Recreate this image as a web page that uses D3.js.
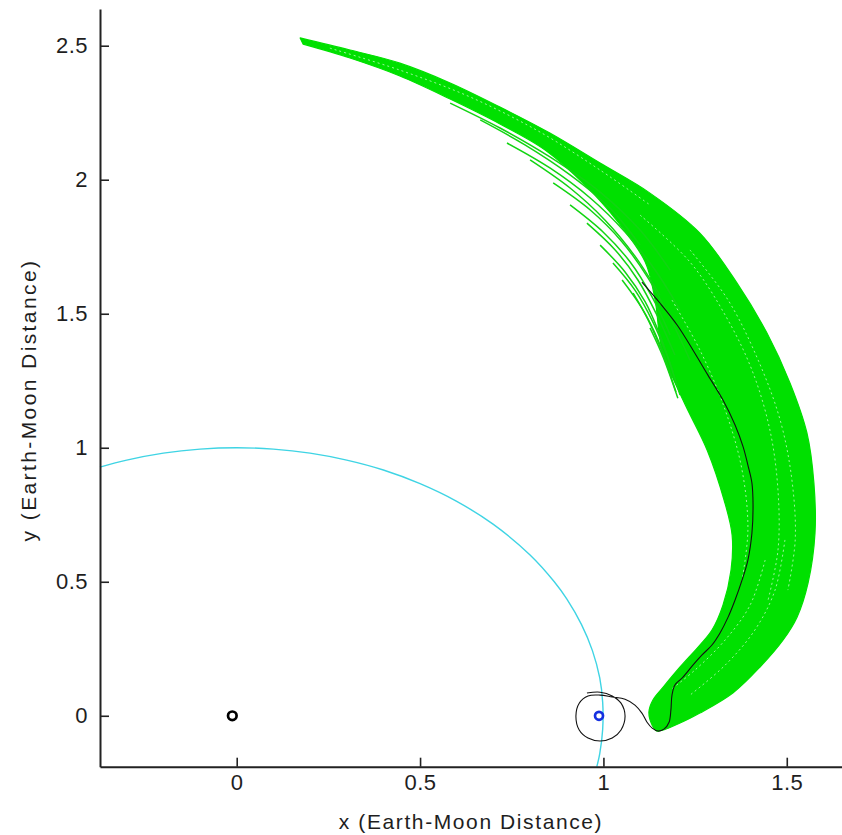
<!DOCTYPE html>
<html><head><meta charset="utf-8">
<script src="https://cdn.jsdelivr.net/npm/d3@7"></script>
<style>
html,body{margin:0;padding:0;background:#fff;}
svg{display:block;}
text{font-family:"Liberation Sans",Arial,Helvetica,sans-serif;fill:#1e1e1e;}
</style></head>
<body>
<svg id="chart" width="842" height="835"></svg>
<script>
// ---- data (Earth-Moon distance units) ----
const xTicks = [0, 0.5, 1, 1.5];
const yTicks = [0, 0.5, 1, 1.5, 2, 2.5];
const xLabel = "x (Earth-Moon Distance)";
const yLabel = "y (Earth-Moon Distance)";

const earth = [-0.012, 0];
const moon = [0.988, 0];

// Moon orbit (cyan)
const orbitX = [-0.373,-0.3,-0.2,-0.1,0,0.1,0.2,0.3,0.4,0.5,0.6,0.7,0.8,0.866,0.9,0.94,0.97,0.99,0.998,0.998,0.99,0.982];
const orbitY = [0.928,0.954,0.980,0.995,1.0,0.995,0.980,0.954,0.917,0.866,0.800,0.714,0.600,0.5,0.436,0.341,0.243,0.141,0.05,-0.05,-0.141,-0.19];

// Green bundle of trajectories: dense core outline (outer edge, then inner edge)
const bundleOuter = [[0.173,2.529],[0.309,2.484],[0.445,2.435],[0.582,2.361],[0.718,2.271],[0.854,2.174],[0.991,2.062],[1.127,1.950],[1.263,1.801],[1.364,1.615],[1.446,1.428],[1.509,1.241],[1.555,1.055],[1.574,0.868],[1.577,0.682],[1.558,0.495],[1.528,0.368],[1.490,0.283],[1.427,0.182],[1.353,0.085],[1.263,0.010],[1.209,-0.027],[1.146,-0.057]];
const bundleInner = [[1.133,-0.035],[1.124,0.014],[1.135,0.059],[1.163,0.107],[1.209,0.182],[1.263,0.264],[1.296,0.320],[1.326,0.413],[1.348,0.544],[1.351,0.674],[1.329,0.805],[1.283,0.991],[1.217,1.178],[1.160,1.365],[1.141,1.551],[1.114,1.693],[1.040,1.842],[0.950,1.980],[0.841,2.111],[0.718,2.208],[0.582,2.301],[0.445,2.387],[0.309,2.454],[0.181,2.506]];

// Individual green trajectories fanning out on the inner side
const fringeLines = [
  [[0.582,2.286],[0.718,2.193],[0.854,2.085],[0.991,1.954],[1.100,1.812],[1.182,1.663]],
  [[0.664,2.223],[0.786,2.130],[0.909,2.018],[1.018,1.894],[1.100,1.756]],
  [[0.737,2.137],[0.854,2.044],[0.964,1.932],[1.059,1.805],[1.141,1.663],[1.209,1.514]],
  [[0.800,2.074],[0.909,1.969],[1.004,1.850],[1.086,1.715],[1.154,1.570]],
  [[0.863,1.988],[0.964,1.887],[1.051,1.768],[1.122,1.633],[1.182,1.484],[1.236,1.327]],
  [[0.909,1.906],[0.999,1.805],[1.073,1.693],[1.133,1.562],[1.182,1.421]],
  [[0.955,1.838],[1.032,1.738],[1.094,1.626],[1.146,1.495],[1.195,1.346]],
  [[0.991,1.756],[1.059,1.656],[1.114,1.544],[1.154,1.421],[1.190,1.283]],
  [[1.026,1.689],[1.086,1.588],[1.135,1.469],[1.173,1.346],[1.209,1.197]],
  [[1.051,1.626],[1.105,1.521],[1.149,1.402],[1.187,1.260]],
  [[1.081,1.577],[1.122,1.477],[1.160,1.357],[1.198,1.208]],
  [[1.127,1.447],[1.163,1.338],[1.203,1.185]]
];

// Lighter gaps between trajectories inside the bundle
const gapLines = [
  [[0.254,2.491],[0.445,2.409],[0.636,2.309],[0.827,2.178],[0.991,2.036],[1.127,1.906]],
  [[1.100,1.868],[1.236,1.693],[1.332,1.495],[1.405,1.290],[1.454,1.066],[1.476,0.842],[1.476,0.618],[1.449,0.432]],
  [[1.236,1.738],[1.340,1.551],[1.422,1.327],[1.482,1.103],[1.514,0.880],[1.523,0.656],[1.503,0.469]],
  [[1.187,1.551],[1.263,1.365],[1.332,1.141],[1.378,0.917],[1.394,0.693],[1.378,0.506]],
  [[1.495,0.656],[1.468,0.469],[1.413,0.320],[1.332,0.189],[1.236,0.077]],
  [[1.441,0.581],[1.400,0.413],[1.332,0.283],[1.250,0.171],[1.182,0.096]]
];

// Black reference trajectory (loop about the Moon, then out along the bundle)
const pathX = [0.955,0.991,1.024,1.048,1.059,1.048,1.024,0.991,0.958,0.934,0.925,0.934,0.958,0.991,1.024,1.059,1.086,1.105,1.119,1.133,1.149,1.165,1.179,1.184,1.187,1.195,1.217,1.244,1.269,1.296,1.318,1.340,1.359,1.378,1.394,1.405,1.408,1.405,1.394,1.381,1.359,1.326,1.285,1.244,1.201,1.154,1.105];
const pathY = [0.085,0.088,0.074,0.047,-0.001,-0.053,-0.083,-0.094,-0.083,-0.053,-0.001,0.047,0.074,0.077,0.070,0.062,0.040,0.010,-0.024,-0.046,-0.057,-0.050,-0.024,0.021,0.077,0.115,0.144,0.189,0.227,0.264,0.309,0.368,0.432,0.506,0.581,0.682,0.786,0.868,0.935,1.003,1.085,1.178,1.271,1.365,1.458,1.540,1.618];

// ---- drawing ----
const svg = d3.select("#chart");
const x = d3.scaleLinear().domain([-0.3728, 1.6506]).range([100, 842]);
const y = d3.scaleLinear().domain([-0.19, 2.637]).range([766.7, 9]);

const smooth = d3.line().x(d => x(d[0])).y(d => y(d[1])).curve(d3.curveCatmullRom);
const green = "#00e000";

// bundle core
svg.append("path")
  .attr("d", smooth(bundleOuter.concat(bundleInner)) + "Z")
  .attr("fill", green).attr("stroke", green).attr("stroke-width", 1.2)
  .attr("stroke-linejoin", "round");

// fringe trajectories
svg.append("g").selectAll("path").data(fringeLines).join("path")
  .attr("d", d => smooth(d))
  .attr("fill", "none").attr("stroke", "#12d412").attr("stroke-width", 1.5);

// gaps inside the bundle
svg.append("g").selectAll("path").data(gapLines).join("path")
  .attr("d", d => smooth(d))
  .attr("fill", "none").attr("stroke", "#e8ffe8").attr("stroke-width", 0.9)
  .attr("stroke-dasharray", "2,3").attr("opacity", 0.75);

// moon orbit
const orbit = orbitX.map((v, i) => [v, orbitY[i]]);
svg.append("path").attr("d", smooth(orbit))
  .attr("fill", "none").attr("stroke", "#3fd4e4").attr("stroke-width", 1.4);

// black trajectory
const traj = pathX.map((v, i) => [v, pathY[i]]);
svg.append("path").attr("d", smooth(traj))
  .attr("fill", "none").attr("stroke", "#111").attr("stroke-width", 1.1);

// Earth and Moon markers
svg.append("circle").attr("cx", x(earth[0])).attr("cy", y(earth[1])).attr("r", 4.3)
  .attr("fill", "#fff").attr("stroke", "#000").attr("stroke-width", 2.7);
svg.append("circle").attr("cx", x(moon[0])).attr("cy", y(moon[1])).attr("r", 4)
  .attr("fill", "#fff").attr("stroke", "#1530e0").attr("stroke-width", 2.7);

// axes
const fmt = d => String(d);
const gx = svg.append("g").attr("transform", "translate(0,766.7)")
  .call(d3.axisBottom(x).tickValues(xTicks).tickFormat(fmt).tickSizeInner(-9).tickSizeOuter(0).tickPadding(8));
const gy = svg.append("g").attr("transform", "translate(100,0)")
  .call(d3.axisLeft(y).tickValues(yTicks).tickFormat(fmt).tickSizeInner(-9).tickSizeOuter(0).tickPadding(12));
[gx, gy].forEach(g => {
  g.select(".domain").attr("stroke", "#222").attr("stroke-width", 2);
  g.selectAll(".tick line").attr("stroke", "#222").attr("stroke-width", 1.6);
  g.selectAll("text").attr("font-size", 22).attr("fill", "#1e1e1e")
    .attr("font-family", "'Liberation Sans', Arial, sans-serif").attr("letter-spacing", 0.5);
});

svg.append("text").attr("x", 471).attr("y", 829).attr("text-anchor", "middle")
  .attr("font-size", 21).attr("letter-spacing", 1.6).text(xLabel);
svg.append("text").attr("transform", "translate(36,400) rotate(-90)").attr("text-anchor", "middle")
  .attr("font-size", 21).attr("letter-spacing", 2.4).text(yLabel);
</script>
</body></html>
